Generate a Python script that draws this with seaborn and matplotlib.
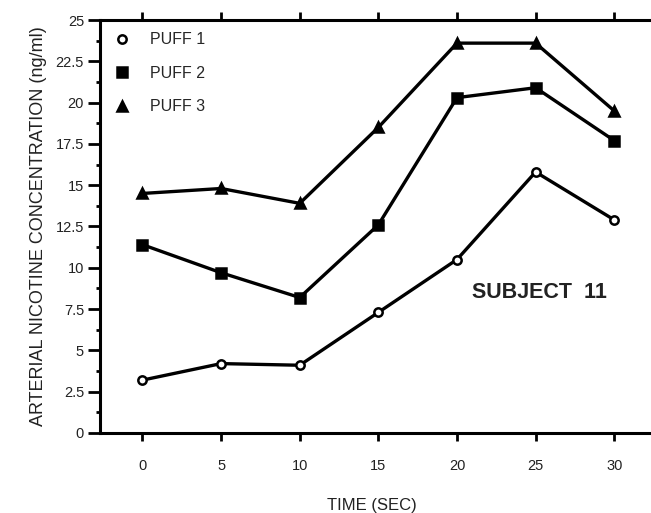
import matplotlib
matplotlib.use("Agg")
import matplotlib.pyplot as plt
import seaborn as sns
import pandas as pd
from matplotlib.ticker import MultipleLocator

time_sec = [0, 5, 10, 15, 20, 25, 30]
puff1 = [3.2, 4.2, 4.1, 7.3, 10.5, 15.8, 12.9]
puff2 = [11.4, 9.7, 8.2, 12.6, 20.3, 20.9, 17.7]
puff3 = [14.5, 14.8, 13.9, 18.5, 23.6, 23.6, 19.5]
series_names = ["PUFF 1", "PUFF 2", "PUFF 3"]
y_ticks = [0, 2.5, 5, 7.5, 10, 12.5, 15, 17.5, 20, 22.5, 25]
y_tick_labels = ["0", "2.5", "5", "7.5", "10", "12.5", "15", "17.5", "20", "22.5", "25"]

sns.set_theme(style="ticks")
plt.rcParams["font.family"] = ["Liberation Sans", "DejaVu Sans"]

fig = plt.figure(figsize=(6.51, 5.13), dpi=100)
ax = fig.add_axes([0.1536, 0.156, 0.86, 0.805])

styles = [
    dict(marker="o", markerfacecolor="white", markersize=6),
    dict(marker="s", markerfacecolor="black", markersize=6.5),
    dict(marker="^", markerfacecolor="black", markersize=7.5),
]
for name, vals, st in zip(series_names, [puff1, puff2, puff3], styles):
    df = pd.DataFrame({"t": time_sec, "c": vals})
    sns.lineplot(data=df, x="t", y="c", ax=ax, color="black", linewidth=2.4,
                 markeredgecolor="black", markeredgewidth=1.8, label=name, **st)

ax.set_xlim(-2.7, 32.9)
ax.set_ylim(0, 25)
ax.set_xticks(time_sec)
ax.set_xticklabels([str(t) for t in time_sec], fontsize=10.5)
ax.set_yticks(y_ticks)
ax.set_yticklabels(y_tick_labels, fontsize=10.5)
ax.yaxis.set_minor_locator(MultipleLocator(1.25))

for s in ["left", "bottom", "top"]:
    ax.spines[s].set_linewidth(2.2)
    ax.spines[s].set_color("black")
ax.spines["right"].set_visible(False)

ax.tick_params(axis="x", which="major", top=True, labeltop=False, direction="out",
               length=6, width=2, color="black", pad=13, labelcolor="#222222")
ax.tick_params(axis="y", which="major", direction="out", length=8.5, width=2,
               color="black", pad=3, labelcolor="#222222")
ax.tick_params(axis="y", which="minor", direction="out", length=3, width=2, color="black")

ax.set_xlabel("TIME (SEC)", fontsize=12, labelpad=18, color="#222222")
ax.xaxis.label.set_x(0.486)
ax.set_ylabel("ARTERIAL NICOTINE CONCENTRATION (ng/ml)", fontsize=13,
              labelpad=6, color="#222222")

leg = ax.legend(loc="upper left", frameon=False, fontsize=11.5, handlelength=0,
                handletextpad=1.75, labelspacing=1.15, borderaxespad=0.2,
                bbox_to_anchor=(0.022, 0.993))
for h in leg.legend_handles:
    h.set_linestyle("none")

ax.text(0.665, 0.328, "SUBJECT  11", transform=ax.transAxes, fontsize=15.5,
        fontweight="bold", color="#222222")

fig.savefig("out.png", dpi=100)
